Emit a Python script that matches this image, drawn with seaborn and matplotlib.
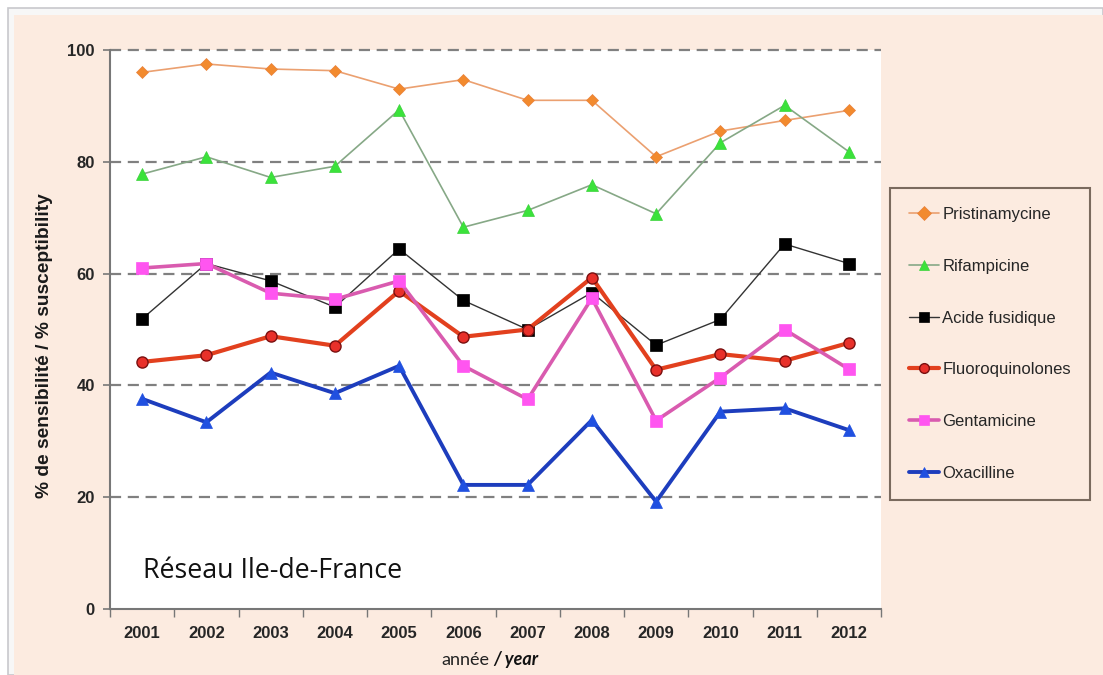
import numpy as np
import pandas as pd
import seaborn as sns
import matplotlib
matplotlib.use("Agg")
import matplotlib.pyplot as plt
from matplotlib.patches import Rectangle
from matplotlib.ticker import FixedLocator

years = ["2001", "2002", "2003", "2004", "2005", "2006",
         "2007", "2008", "2009", "2010", "2011", "2012"]
pristinamycine = [96.0, 97.5, 96.6, 96.3, 93.0, 94.7, 91.0, 91.0, 80.9, 85.5, 87.4, 89.2]
rifampicine = [77.8, 80.9, 77.2, 79.2, 89.3, 68.3, 71.3, 75.9, 70.7, 83.4, 90.1, 81.8]
acide_fusidique = [51.9, 61.8, 58.7, 54.0, 64.4, 55.2, 50.0, 56.6, 47.2, 51.8, 65.3, 61.8]
fluoroquinolones = [44.2, 45.4, 48.8, 47.1, 56.9, 48.7, 50.0, 59.3, 42.8, 45.6, 44.4, 47.6]
gentamicine = [61.0, 61.8, 56.5, 55.4, 58.7, 43.5, 37.5, 55.6, 33.7, 41.4, 50.0, 42.9]
oxacilline = [37.6, 33.4, 42.3, 38.6, 43.5, 22.2, 22.2, 33.8, 19.2, 35.3, 35.9, 32.0]
series_names = ["Pristinamycine", "Rifampicine", "Acide fusidique",
                "Fluoroquinolones", "Gentamicine", "Oxacilline"]
yticks = [0, 20, 40, 60, 80, 100]

sns.set_theme(style="white")
plt.rcParams['font.family'] = ['Liberation Sans', 'DejaVu Sans']

PEACH = "#FCEBE0"
fig = plt.figure(figsize=(11.03, 6.75), dpi=100, facecolor="white")
# peach panel with thin grey border
fig.patches.append(Rectangle((8 / 1103, 0), 1 - 8 / 1103, 1 - 8 / 675,
                             transform=fig.transFigure, facecolor="#F7F7F7",
                             edgecolor="#C8C8CC", linewidth=1.2, zorder=-10))
fig.patches.append(Rectangle((14 / 1103, 0), 1 - 14 / 1103, 1 - 15 / 675,
                             transform=fig.transFigure, facecolor=PEACH,
                             edgecolor="none", zorder=-9))

ax = fig.add_axes([110 / 1103, 1 - 609 / 675, (881 - 110) / 1103, (609 - 50) / 675])
ax.set_facecolor("white")

styles = [
    dict(color="#EBA070", lw=1.2, marker="D", ms=6, mfc="#F28A2E", mec="#E8803A", mew=0.5),
    dict(color="#86A886", lw=1.2, marker="^", ms=8, mfc="#3BE23B", mec="#3BD23B", mew=0.5),
    dict(color="#333333", lw=1.0, marker="s", ms=8, mfc="#000000", mec="#000000", mew=0.5),
    dict(color="#E2401E", lw=3.0, marker="o", ms=8, mfc="#E8302A", mec="#7A1010", mew=1.0),
    dict(color="#D95BAF", lw=2.6, marker="s", ms=8, mfc="#FF55F0", mec="#FF55F0", mew=0.5),
    dict(color="#1D3DBD", lw=2.8, marker="^", ms=8, mfc="#2050E0", mec="#2050E0", mew=0.5),
]
all_values = [pristinamycine, rifampicine, acide_fusidique,
              fluoroquinolones, gentamicine, oxacilline]

for name, vals, st in zip(series_names, all_values, styles):
    df = pd.DataFrame({"year": years, "value": vals})
    sns.lineplot(data=df, x="year", y="value", ax=ax, label=name,
                 color=st["color"], linewidth=st["lw"], marker=st["marker"],
                 markersize=st["ms"], markerfacecolor=st["mfc"],
                 markeredgecolor=st["mec"], markeredgewidth=st["mew"],
                 sort=False, zorder=3)

ax.set_xlim(-0.5, len(years) - 0.5)
ax.set_ylim(0, 100)
ax.set_yticks(yticks)
for yv in yticks[1:]:
    ax.axhline(yv, color="#808080", linestyle=(0, (5, 3)), linewidth=1.6, zorder=1,
               clip_on=False)

for s in ["top", "right"]:
    ax.spines[s].set_visible(False)
for s in ["left", "bottom"]:
    ax.spines[s].set_color("#777777")
    ax.spines[s].set_linewidth(1.5)

ax.tick_params(axis="y", which="major", direction="inout", length=10, width=1.2,
               color="#777777", labelsize=12, pad=6, left=True)
ax.xaxis.set_minor_locator(FixedLocator(np.arange(-0.5, len(years), 1.0)))
ax.tick_params(axis="x", which="major", length=0, labelsize=12, pad=12)
ax.tick_params(axis="x", which="minor", direction="out", length=6, width=1.0,
               color="#777777", bottom=True)
for lab in ax.get_xticklabels() + ax.get_yticklabels():
    lab.set_fontweight("bold")

ax.set_xlabel("")
ax.set_ylabel("% de sensibilité / % susceptibility", fontsize=13.8,
              fontweight="bold", color="#1a1a1a")
ax.yaxis.set_label_coords((53 - 110) / 771, (609 - 346) / 559)

fig.text(489 / 1103, 1 - 660 / 675, "année", ha="right", va="center",
         fontsize=13, family=["Lato", "DejaVu Sans"], color="#222222")
fig.text(493 / 1103, 1 - 660 / 675, "/ year", ha="left", va="center",
         fontsize=13, family=["Lato", "DejaVu Sans"], fontweight="bold",
         style="italic", color="#111111")

ax.text(143 / 1103, 1 - 578 / 675, "Réseau Ile-de-France", transform=fig.transFigure,
        ha="left", va="baseline", fontsize=19.3, family=["Open Sans", "DejaVu Sans"],
        color="#111111", zorder=5)

leg = ax.legend(loc="upper left", bbox_to_anchor=(890 / 1103, 1 - 188 / 675),
                bbox_transform=fig.transFigure, frameon=True, fancybox=False,
                facecolor=PEACH, edgecolor="#7A6A5E", framealpha=1,
                fontsize=12, labelspacing=2.2, handlelength=1.8,
                handletextpad=0.2, borderpad=1.15, borderaxespad=0)
leg.get_frame().set_linewidth(1.5)
for h in leg.legend_handles:
    h.set_markersize(7)

fig.savefig("out.png", dpi=100, facecolor=fig.get_facecolor())
